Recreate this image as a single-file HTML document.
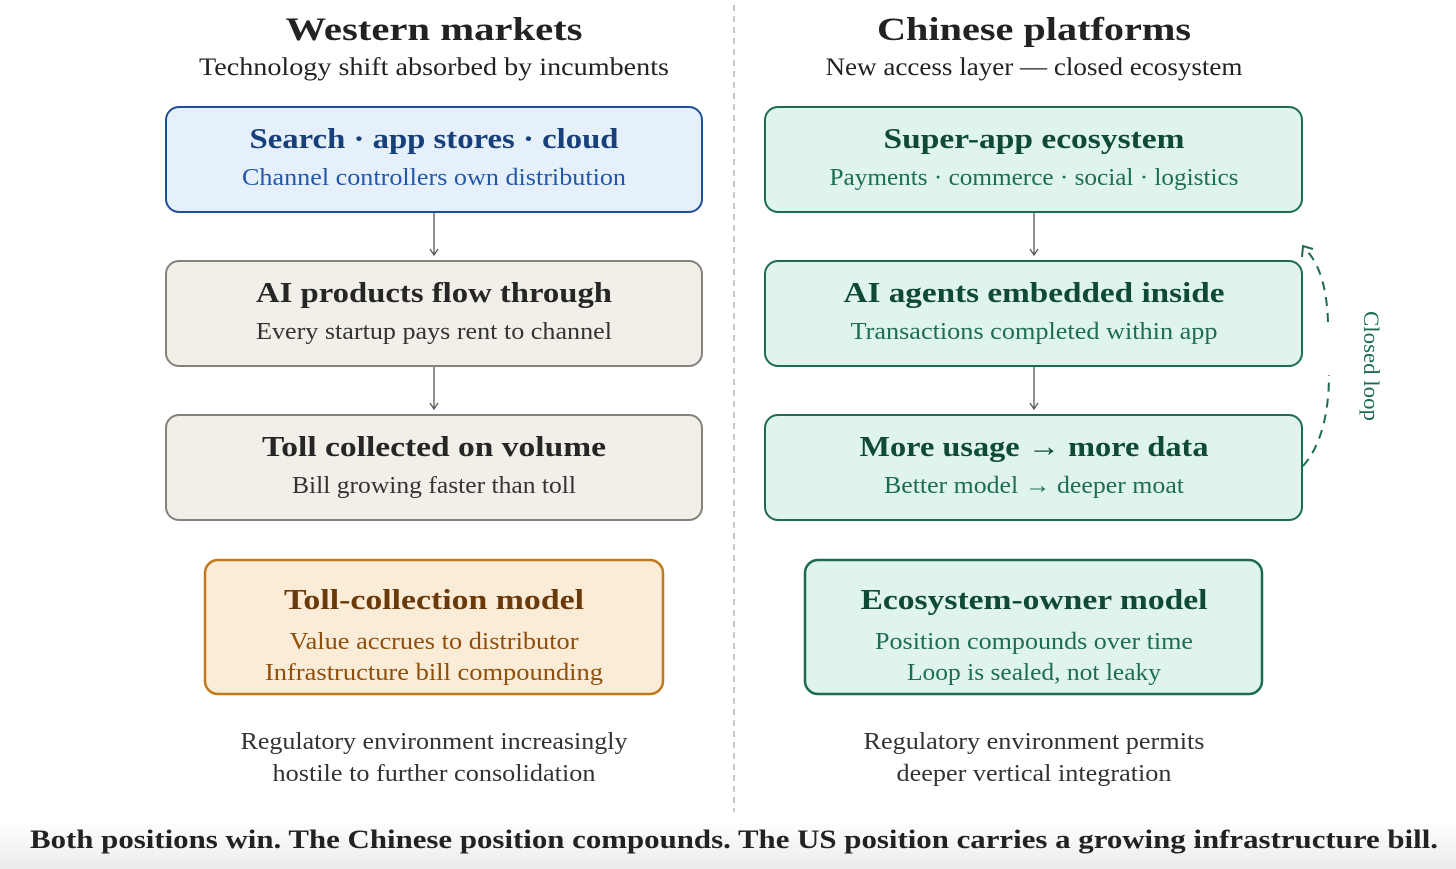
<!DOCTYPE html>
<html><head><meta charset="utf-8"><style>
html,body{margin:0;padding:0;background:#fff;}
svg{display:block;}
text{font-family:"Liberation Serif","DejaVu Serif",serif;}
</style></head><body>
<svg width="1456" height="869" viewBox="0 0 1456 869" xmlns="http://www.w3.org/2000/svg">
<defs>
<linearGradient id="bg" x1="0" y1="0" x2="0" y2="1">
<stop offset="0" stop-color="#ffffff"/><stop offset="1" stop-color="#ececec"/>
</linearGradient>
<marker id="ah" markerWidth="12" markerHeight="12" refX="9" refY="5" orient="auto" markerUnits="userSpaceOnUse">
<path d="M3,1 L9,5 L3,9" fill="none" stroke="#555" stroke-width="1.3"/>
</marker>
</defs>
<rect x="0" y="820" width="1456" height="49" fill="url(#bg)"/>
<line x1="734" y1="5" x2="734" y2="812" stroke="#b5b5b5" stroke-width="1.5" stroke-dasharray="6,5"/>

<g text-anchor="middle" fill="#222">
<text x="434" y="40" font-size="33" font-weight="bold" textLength="297" lengthAdjust="spacingAndGlyphs">Western markets</text>
<text x="434" y="75" font-size="25" textLength="470" lengthAdjust="spacingAndGlyphs">Technology shift absorbed by incumbents</text>
<text x="1034" y="40" font-size="33" font-weight="bold" textLength="314" lengthAdjust="spacingAndGlyphs">Chinese platforms</text>
<text x="1034" y="75" font-size="25" textLength="417" lengthAdjust="spacingAndGlyphs">New access layer — closed ecosystem</text>
</g>

<rect x="166" y="107" width="536" height="105" rx="13" fill="#e6f0fa" stroke="#1f4e9a" stroke-width="2"/>
<rect x="166" y="261" width="536" height="105" rx="13" fill="#f2efe8" stroke="#85827c" stroke-width="2"/>
<rect x="166" y="415" width="536" height="105" rx="13" fill="#f2efe8" stroke="#85827c" stroke-width="2"/>
<rect x="205" y="560" width="458" height="134" rx="13" fill="#fbecd8" stroke="#c07a1e" stroke-width="2.5"/>
<rect x="765" y="107" width="537" height="105" rx="13" fill="#e0f4ee" stroke="#1e6b50" stroke-width="2"/>
<rect x="765" y="261" width="537" height="105" rx="13" fill="#e0f4ee" stroke="#1e6b50" stroke-width="2"/>
<rect x="765" y="415" width="537" height="105" rx="13" fill="#e0f4ee" stroke="#1e6b50" stroke-width="2"/>
<rect x="805" y="560" width="457" height="134" rx="13" fill="#e0f4ee" stroke="#1e6b50" stroke-width="2.5"/>

<g stroke="#555" stroke-width="1.3" marker-end="url(#ah)">
<line x1="434" y1="213" x2="434" y2="255"/>
<line x1="434" y1="367" x2="434" y2="409"/>
<line x1="1034" y1="213" x2="1034" y2="255"/>
<line x1="1034" y1="367" x2="1034" y2="409"/>
</g>

<path d="M1303,466 C1322,445 1329,410 1329,375" fill="none" stroke="#1e6b50" stroke-width="2" stroke-dasharray="9,7"/>
<path d="M1328,322 C1327,290 1320,264 1306,250" fill="none" stroke="#1e6b50" stroke-width="2" stroke-dasharray="9,7"/>
<path d="M1302,257 L1303,246 L1313,249" fill="none" stroke="#1e6b50" stroke-width="2"/>
<text transform="translate(1364,366) rotate(90)" text-anchor="middle" font-size="22" fill="#1e6b50" textLength="110" lengthAdjust="spacingAndGlyphs">Closed loop</text>

<g text-anchor="middle">
<text x="434" y="148" font-size="29" font-weight="bold" fill="#173f7a" textLength="369" lengthAdjust="spacingAndGlyphs">Search · app stores · cloud</text>
<text x="434" y="185" font-size="24" fill="#2358a6" textLength="384" lengthAdjust="spacingAndGlyphs">Channel controllers own distribution</text>
<text x="434" y="302" font-size="29" font-weight="bold" fill="#262626" textLength="356" lengthAdjust="spacingAndGlyphs">AI products flow through</text>
<text x="434" y="339" font-size="24" fill="#333" textLength="356" lengthAdjust="spacingAndGlyphs">Every startup pays rent to channel</text>
<text x="434" y="456" font-size="29" font-weight="bold" fill="#262626" textLength="344" lengthAdjust="spacingAndGlyphs">Toll collected on volume</text>
<text x="434" y="493" font-size="24" fill="#333" textLength="284" lengthAdjust="spacingAndGlyphs">Bill growing faster than toll</text>
<text x="434" y="609" font-size="29" font-weight="bold" fill="#6b3a0a" textLength="300" lengthAdjust="spacingAndGlyphs">Toll-collection model</text>
<text x="434" y="649" font-size="24" fill="#8f4f0a" textLength="289" lengthAdjust="spacingAndGlyphs">Value accrues to distributor</text>
<text x="434" y="680" font-size="24" fill="#8f4f0a" textLength="338" lengthAdjust="spacingAndGlyphs">Infrastructure bill compounding</text>
<text x="434" y="749" font-size="24" fill="#333" textLength="387" lengthAdjust="spacingAndGlyphs">Regulatory environment increasingly</text>
<text x="434" y="781" font-size="24" fill="#333" textLength="323" lengthAdjust="spacingAndGlyphs">hostile to further consolidation</text>

<text x="1034" y="148" font-size="29" font-weight="bold" fill="#0f4a36" textLength="301" lengthAdjust="spacingAndGlyphs">Super-app ecosystem</text>
<text x="1034" y="185" font-size="24" fill="#1d6e4f" textLength="409" lengthAdjust="spacingAndGlyphs">Payments · commerce · social · logistics</text>
<text x="1034" y="302" font-size="29" font-weight="bold" fill="#0f4a36" textLength="381" lengthAdjust="spacingAndGlyphs">AI agents embedded inside</text>
<text x="1034" y="339" font-size="24" fill="#1d6e4f" textLength="367" lengthAdjust="spacingAndGlyphs">Transactions completed within app</text>
<text x="1034" y="456" font-size="29" font-weight="bold" fill="#0f4a36" textLength="349" lengthAdjust="spacingAndGlyphs">More usage → more data</text>
<text x="1034" y="493" font-size="24" fill="#1d6e4f" textLength="300" lengthAdjust="spacingAndGlyphs">Better model → deeper moat</text>
<text x="1034" y="609" font-size="29" font-weight="bold" fill="#0f4a36" textLength="347" lengthAdjust="spacingAndGlyphs">Ecosystem-owner model</text>
<text x="1034" y="649" font-size="24" fill="#1d6e4f" textLength="318" lengthAdjust="spacingAndGlyphs">Position compounds over time</text>
<text x="1034" y="680" font-size="24" fill="#1d6e4f" textLength="254" lengthAdjust="spacingAndGlyphs">Loop is sealed, not leaky</text>
<text x="1034" y="749" font-size="24" fill="#333" textLength="341" lengthAdjust="spacingAndGlyphs">Regulatory environment permits</text>
<text x="1034" y="781" font-size="24" fill="#333" textLength="275" lengthAdjust="spacingAndGlyphs">deeper vertical integration</text>

<text x="734" y="848" font-size="26" font-weight="bold" fill="#222" textLength="1408" lengthAdjust="spacingAndGlyphs">Both positions win. The Chinese position compounds. The US position carries a growing infrastructure bill.</text>
</g>
</svg>
</body></html>
